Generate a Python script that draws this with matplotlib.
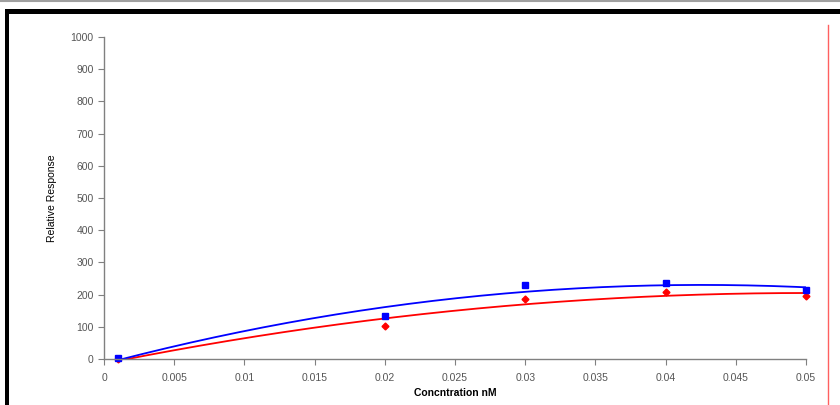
import numpy as np
import matplotlib.pyplot as plt
from matplotlib.lines import Line2D
from matplotlib.patches import Rectangle

# data
conc = [0.001, 0.02, 0.03, 0.04, 0.05]
blue_resp = [3, 133, 231, 237, 214]
red_resp = [0, 102, 186, 207, 196]

x_ticks = [0, 0.005, 0.01, 0.015, 0.02, 0.025, 0.03, 0.035, 0.04, 0.045, 0.05]
x_tick_labels = ['0', '0.005', '0.01', '0.015', '0.02', '0.025', '0.03', '0.035', '0.04', '0.045', '0.05']
y_ticks = list(range(0, 1001, 100))

plt.rcParams['font.family'] = ['Liberation Sans', 'DejaVu Sans']

fig = plt.figure(figsize=(8.4, 4.05), dpi=100)
ax = fig.add_axes([104 / 840, 1 - 359 / 405, (806 - 104) / 840, (359 - 37) / 405])

# 2nd order polynomial trendlines, like the spreadsheet did
xs = np.linspace(conc[0], conc[-1], 200)
for resp, col in [(red_resp, '#ff0000'), (blue_resp, '#0000ff')]:
    p = np.polyfit(conc, resp, 2)
    ax.plot(xs, np.polyval(p, xs), color=col, lw=1.3, clip_on=True)

ax.plot(conc, red_resp, linestyle='none', marker='D', ms=3.5, color='#ff0000', clip_on=False)
ax.plot(conc, blue_resp, linestyle='none', marker='s', ms=5, color='#0000ff', clip_on=False)

ax.set_xlim(0, 0.05)
ax.set_ylim(0, 1000)
ax.set_xticks(x_ticks)
ax.set_xticklabels(x_tick_labels)
ax.set_yticks(y_ticks)

for s in ['top', 'right']:
    ax.spines[s].set_visible(False)
for s in ['left', 'bottom']:
    ax.spines[s].set_color('#808080')
    ax.spines[s].set_linewidth(1)
ax.tick_params(colors='#808080', labelcolor='#555555', labelsize=7.5, direction='out', length=4)
ax.tick_params(axis='x', pad=6)

ax.set_xlabel('Concntration nM', fontsize=7.5, fontweight='bold', labelpad=4)
ax.set_ylabel('Relative Response', fontsize=7.5, labelpad=10)

# frame decorations around the picture
fig.add_artist(Line2D([0, 1], [1 - 1 / 405, 1 - 1 / 405], color='#a0a0a0', lw=1.5))
fig.add_artist(Rectangle((5 / 840, 1 - 14 / 405), 1, 5 / 405, color='black', lw=0))
fig.add_artist(Rectangle((5 / 840, 0), 4 / 840, 1 - 9 / 405, color='black', lw=0))
fig.add_artist(Line2D([828 / 840, 828 / 840], [0, 1 - 25 / 405], color='#ff6060', lw=1))

fig.savefig('out.png', dpi=100)
